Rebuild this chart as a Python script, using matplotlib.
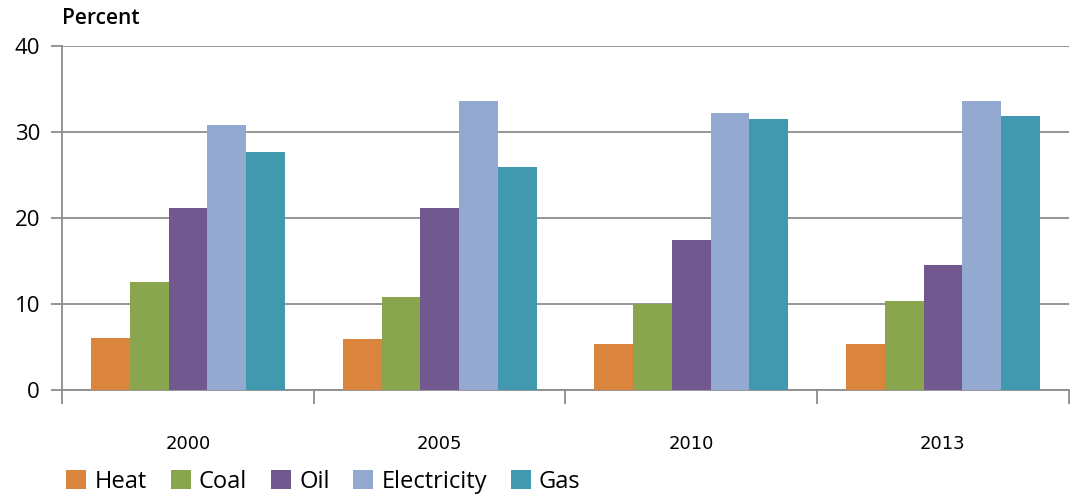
import matplotlib
matplotlib.use("Agg")
import matplotlib.pyplot as plt
from matplotlib.patches import Patch
import numpy as np

years = ["2000", "2005", "2010", "2013"]
heat = [6.1, 5.9, 5.4, 5.4]
coal = [12.6, 10.8, 10.0, 10.3]
oil = [21.2, 21.2, 17.5, 14.5]
electricity = [30.8, 33.6, 32.2, 33.6]
gas = [27.7, 25.9, 31.5, 31.9]

series = [("Heat", heat, "#DB843D"),
          ("Coal", coal, "#89A54E"),
          ("Oil", oil, "#71588F"),
          ("Electricity", electricity, "#93A9CF"),
          ("Gas", gas, "#4198AF")]

plt.rcParams['font.family'] = ['Open Sans', 'DejaVu Sans']

fig = plt.figure(figsize=(10.73, 4.95), dpi=100)
ax = fig.add_axes([0.058, 0.212, 0.938, 0.695])

x = np.arange(len(years)) + 0.5
w = 0.154
for i, (name, vals, col) in enumerate(series):
    ax.bar(x + (i - 2) * w, vals, w, color=col, zorder=3)

ax.set_xlim(0, len(years))
ax.set_ylim(0, 40)
ax.set_yticks([0, 10, 20, 30, 40])
ax.yaxis.grid(True, color="#8c8c8c", linewidth=1.3, zorder=0)

ax.set_xticks(np.arange(len(years) + 1))
ax.set_xticklabels([])
ax.set_xticks(x, minor=True)
ax.set_xticklabels(years, minor=True, fontsize=13, family='DejaVu Sans')
ax.tick_params(axis='x', which='major', length=10, color="#8c8c8c", width=1.3)
ax.tick_params(axis='x', which='minor', length=0, pad=32)
ax.tick_params(axis='y', length=8, color="#8c8c8c", width=1.3, labelsize=16, pad=8)

for s in ['top', 'right']:
    ax.spines[s].set_visible(False)
for s in ['left', 'bottom']:
    ax.spines[s].set_color("#8c8c8c")
    ax.spines[s].set_linewidth(1.3)

fig.text(0.058, 0.963, "Percent", fontsize=15, va='center', ha='left', weight='semibold')

handles = [Patch(facecolor=c, label=n) for n, _, c in series]
fig.legend(handles=handles, loc='lower left', bbox_to_anchor=(0.042, -0.04), ncol=5,
           frameon=False, fontsize=17, handlelength=0.85, handleheight=0.85,
           handletextpad=0.35, columnspacing=1.0)

fig.savefig("out.png", dpi=100)
